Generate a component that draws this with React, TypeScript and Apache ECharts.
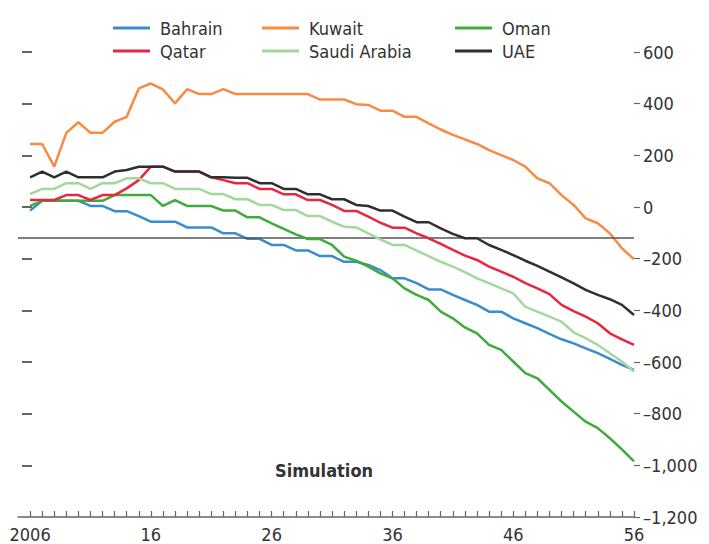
import React, { useEffect, useRef } from "react";
import * as echarts from "echarts";

const years: number[] = [];
for (let y = 2006; y <= 2056; y++) years.push(y);

const bahrain = [-14, 24, 24, 24, 24, 4, 4, -16, -16, -35, -57, -57, -57, -79, -79, -79, -102, -102, -123, -123, -147, -147, -168, -168, -190, -190, -212, -212, -224, -244, -276, -276, -295, -319, -319, -340, -360, -379, -405, -405, -431, -450, -469, -491, -512, -528, -547, -566, -588, -611, -631];
const kuwait = [244, 244, 156, 287, 328, 287, 287, 330, 349, 459, 478, 455, 401, 456, 437, 437, 456, 437, 437, 437, 437, 437, 437, 437, 416, 416, 416, 398, 395, 373, 373, 349, 349, 324, 300, 279, 262, 244, 220, 201, 182, 156, 111, 92, 46, 8, -44, -63, -102, -160, -202];
const oman = [4, 24, 24, 24, 24, 24, 24, 46, 46, 46, 46, 4, 27, 4, 4, 4, -14, -14, -40, -40, -63, -85, -106, -124, -124, -147, -192, -208, -231, -257, -276, -315, -340, -360, -405, -431, -466, -489, -534, -553, -598, -643, -663, -708, -753, -792, -831, -856, -895, -938, -985];
const qatar = [27, 27, 27, 46, 46, 27, 46, 46, 72, 104, 156, 156, 137, 137, 137, 115, 104, 92, 92, 70, 70, 49, 49, 27, 27, 8, -15, -15, -37, -61, -80, -80, -102, -121, -143, -166, -188, -205, -231, -250, -270, -295, -315, -337, -379, -403, -424, -450, -489, -512, -534];
const saudiArabia = [50, 70, 70, 92, 92, 70, 92, 92, 111, 111, 92, 92, 70, 70, 70, 50, 50, 30, 30, 8, 8, -12, -12, -35, -35, -57, -76, -79, -102, -125, -147, -147, -169, -190, -212, -231, -252, -276, -295, -315, -334, -386, -405, -424, -444, -485, -508, -534, -566, -598, -637];
const uae = [115, 137, 115, 137, 115, 115, 115, 137, 143, 156, 156, 156, 137, 137, 137, 115, 115, 113, 113, 92, 92, 70, 70, 49, 49, 30, 30, 8, 4, -14, -14, -37, -59, -59, -83, -104, -121, -121, -147, -166, -186, -208, -228, -250, -272, -296, -321, -340, -357, -379, -418];

const xLabelYears = [2006, 2016, 2026, 2036, 2046, 2056];
const leftTickValues = [600, 400, 200, 0, -200, -400, -600, -800, -1000];
const referenceLevel = -120;

const seriesDefs = [
  { name: "Bahrain", data: bahrain, color: "#3a8ccc" },
  { name: "Kuwait", data: kuwait, color: "#f98a44" },
  { name: "Oman", data: oman, color: "#3fab3a" },
  { name: "Qatar", data: qatar, color: "#e8273f" },
  { name: "Saudi Arabia", data: saudiArabia, color: "#a3d89c" },
  { name: "UAE", data: uae, color: "#2f2f2f" },
];

const legendPos = [
  { left: 113, top: 19 },
  { left: 262, top: 19 },
  { left: 455, top: 19 },
  { left: 113, top: 42 },
  { left: 262, top: 42 },
  { left: 455, top: 42 },
];

const FONT = "'DejaVu Sans Condensed', 'Liberation Sans Narrow', Arial, sans-serif";

function fmtNum(v: number): string {
  const a = Math.abs(v);
  const s = a >= 1000 ? Math.floor(a / 1000) + "," + String(a % 1000).padStart(3, "0") : String(a);
  return v < 0 ? "\u2013" + s : s;
}

export default function App() {
  const ref = useRef<HTMLDivElement>(null);
  useEffect(() => {
    if (!ref.current) return;
    const chart = echarts.init(ref.current, null, { renderer: "svg" });
    const series: any[] = seriesDefs.map((d, i) => ({
      name: d.name,
      type: "line",
      data: years.map((y, k) => [y, d.data[k]]),
      showSymbol: false,
      symbol: "none",
      lineStyle: { color: d.color, width: 2.5 },
      itemStyle: { color: d.color },
      z: 3 + i,
      yAxisIndex: 1,
    }));
    series.push({
      name: "ref",
      type: "line",
      data: [],
      yAxisIndex: 1,
      markLine: {
        silent: true,
        symbol: "none",
        label: { show: false },
        lineStyle: { color: "#555", width: 1.5, type: "solid" },
        data: [{ yAxis: referenceLevel }],
      },
    });
    chart.setOption({
      animation: false,
      backgroundColor: "#fff",
      textStyle: { fontFamily: FONT },
      grid: { left: 18, right: 75, top: 52, bottom: 27 },
      legend: seriesDefs.map((d, i) => ({
        data: [d.name],
        left: legendPos[i].left,
        top: legendPos[i].top,
        icon: "rect",
        itemWidth: 37,
        itemHeight: 3,
        itemGap: 8,
        padding: 0,
        textStyle: { fontFamily: FONT, fontSize: 18, color: "#333", padding: [0, 0, 0, 5] },
        selectedMode: false,
      })),
      xAxis: {
        type: "value",
        min: 2005,
        max: 2056,
        interval: 1,
        splitLine: { show: false },
        axisLine: { show: true, onZero: false, lineStyle: { color: "#666", width: 1.5 } },
        axisTick: {
          show: true,
          inside: true,
          length: 6,
          customValues: years,
          lineStyle: { color: "#666", width: 1.2 },
        },
        axisLabel: {
          customValues: xLabelYears,
          fontSize: 18,
          color: "#333",
          margin: 8,
          fontFamily: FONT,
          formatter: (v: number) => (v === 2006 ? "2006" : String(v % 100)),
        },
      },
      yAxis: [
        {
          type: "value",
          position: "left",
          offset: -14,
          min: -1200,
          max: 600,
          interval: 200,
          splitLine: { show: false },
          axisLine: { show: false, onZero: false },
          axisTick: {
            show: true,
            length: 10,
            customValues: leftTickValues,
            lineStyle: { color: "#666", width: 2 },
          },
          axisLabel: { show: false },
        },
        {
          type: "value",
          position: "right",
          min: -1200,
          max: 600,
          interval: 200,
          splitLine: { show: false },
          axisLine: { show: false },
          axisTick: { show: true, length: 6, lineStyle: { color: "#666", width: 1.2 } },
          axisLabel: {
            margin: 9,
            fontSize: 18,
            color: "#333",
            fontFamily: FONT,
            formatter: (v: number) => fmtNum(v),
          },
        },
      ],
      graphic: [
        {
          type: "text",
          left: 275,
          top: 461,
          style: {
            text: "Simulation",
            font: "bold 18px " + FONT,
            fill: "#333",
          },
        },
      ],
      series,
    });
    return () => chart.dispose();
  }, []);
  return (
    <div
      ref={ref}
      style={{ position: "fixed", left: 0, top: 0, width: 709, height: 544 }}
    />
  );
}
